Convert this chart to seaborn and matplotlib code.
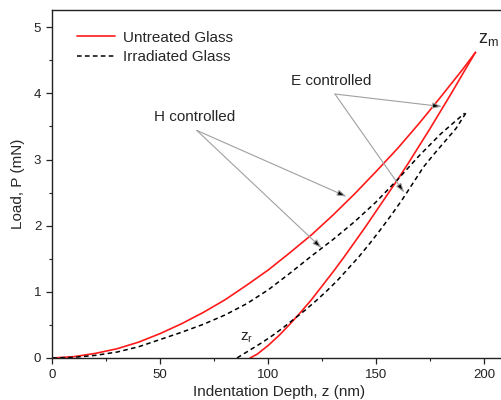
import matplotlib
matplotlib.use("Agg")
import matplotlib.pyplot as plt
from matplotlib.lines import Line2D
from matplotlib.ticker import MultipleLocator
import pandas as pd
import seaborn as sns

# Load-displacement curves (depth z in nm, load P in mN)
untreated_load_z = [0, 10, 20, 30, 40, 50, 60, 70, 80, 90, 100, 110, 120, 130,
                    140, 150, 160, 170, 180, 190, 196]
untreated_load_p = [0, 0.02, 0.07, 0.14, 0.24, 0.37, 0.52, 0.69, 0.88, 1.10, 1.33,
                    1.59, 1.86, 2.16, 2.48, 2.82, 3.17, 3.55, 3.95, 4.36, 4.62]
untreated_unload_z = [196, 190, 185, 180, 175, 170, 165, 160, 155, 150, 145, 140,
                      135, 130, 125, 120, 115, 110, 105, 100, 95, 91.6]
untreated_unload_p = [4.62, 4.29, 4.01, 3.74, 3.47, 3.21, 2.95, 2.70, 2.46, 2.22,
                      1.98, 1.75, 1.52, 1.30, 1.09, 0.88, 0.69, 0.51, 0.34, 0.19,
                      0.06, 0]

irradiated_load_z = [0, 10, 20, 30, 40, 50, 60, 70, 80, 90, 100, 110, 120, 130,
                     140, 150, 160, 170, 180, 186, 191]
irradiated_load_p = [0, 0.01, 0.04, 0.09, 0.17, 0.28, 0.39, 0.51, 0.65, 0.82, 1.03,
                     1.28, 1.54, 1.79, 2.06, 2.36, 2.70, 3.06, 3.39, 3.56, 3.70]
irradiated_unload_z = [191.5, 187, 182, 177, 172, 167, 162, 157, 152, 147, 142, 137,
                       132, 127, 122, 117, 112, 107, 102, 97, 92, 88, 85.5]
irradiated_unload_p = [3.70, 3.47, 3.28, 3.09, 2.89, 2.64, 2.39, 2.16, 1.94, 1.73,
                       1.53, 1.35, 1.17, 1.01, 0.86, 0.72, 0.59, 0.46, 0.34, 0.23,
                       0.13, 0.05, 0]

series_labels = ["Untreated Glass", "Irradiated Glass"]

sns.set_style("ticks")
plt.rcParams["font.family"] = ["Liberation Sans", "DejaVu Sans"]
plt.rcParams["mathtext.fontset"] = "custom"
plt.rcParams["mathtext.rm"] = "Liberation Sans"
plt.rcParams["mathtext.it"] = "Liberation Sans"

fig = plt.figure(figsize=(5.02, 4.0), dpi=100)
ax = fig.add_axes([52.3 / 502, 42 / 400, 453.4 / 502, 348 / 400])

red = "#ff1a1a"
dash = (0, (3.0, 2.2))

for z, p in [(untreated_load_z, untreated_load_p),
             (untreated_unload_z, untreated_unload_p)]:
    df = pd.DataFrame({"z": z, "P": p})
    sns.lineplot(data=df, x="z", y="P", ax=ax, color=red, lw=1.2,
                 sort=False, estimator=None)

for z, p in [(irradiated_load_z, irradiated_load_p),
             (irradiated_unload_z, irradiated_unload_p)]:
    df = pd.DataFrame({"z": z, "P": p})
    sns.lineplot(data=df, x="z", y="P", ax=ax, color="black", lw=1.1,
                 linestyle=dash, sort=False, estimator=None)

ax.set_xlim(0, 210)
ax.set_ylim(0, 5.26)
ax.xaxis.set_major_locator(MultipleLocator(50))
ax.xaxis.set_minor_locator(MultipleLocator(25))
ax.yaxis.set_major_locator(MultipleLocator(1))
ax.yaxis.set_minor_locator(MultipleLocator(0.5))
ax.tick_params(which="major", direction="out", length=4, width=0.9,
               labelsize=9.5, pad=4, colors="#222")
ax.tick_params(which="minor", direction="out", length=2.5, width=0.8,
               colors="#222")
for s in ax.spines.values():
    s.set_linewidth(1.0)
    s.set_color("#222")

ax.set_xlabel("Indentation Depth, z (nm)", fontsize=11, labelpad=3)
ax.set_ylabel("Load, P (mN)", fontsize=11, labelpad=6)

handles = [Line2D([], [], color=red, lw=1.2),
           Line2D([], [], color="black", lw=1.1, linestyle=dash)]
ax.legend(handles, series_labels, loc="upper left", frameon=False,
          bbox_to_anchor=(0.055, 0.941), borderpad=0, borderaxespad=0,
          handlelength=2.5, handletextpad=0.5, labelspacing=0.35, fontsize=11)

# Annotations
arrow = dict(arrowstyle="-|>,head_length=0.55,head_width=0.18",
             edgecolor="#a0a0a0", facecolor="black", lw=0.8,
             shrinkA=0, shrinkB=0)
ax.text(66.1, 3.64, "H controlled", fontsize=11, ha="center", va="center")
for tip in [(136.3, 2.44), (124.8, 1.66)]:
    ax.annotate("", xy=tip, xytext=(66.9, 3.44), arrowprops=arrow)

ax.text(129.1, 4.18, "E controlled", fontsize=11, ha="center", va="center")
for tip in [(180.5, 3.80), (163.0, 2.50)]:
    ax.annotate("", xy=tip, xytext=(130.9, 3.99), arrowprops=arrow)

ax.text(197.0, 4.82, r"z$_\mathregular{m}$", fontsize=13, ha="left", va="center")
ax.text(87.0, 0.30, r"z$_\mathregular{r}$", fontsize=11, ha="left", va="center")

fig.savefig("out.png", dpi=100)
